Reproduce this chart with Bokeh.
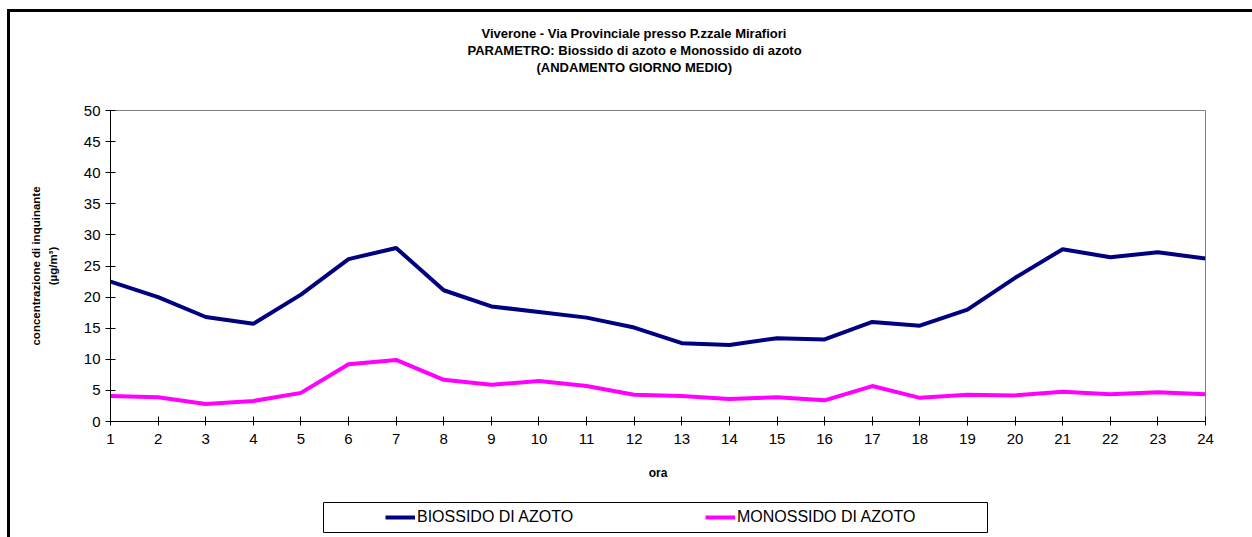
from bokeh.plotting import figure
from bokeh.layouts import column, row
from bokeh.models import Range1d, FixedTicker, Title, Legend, LegendItem
from bokeh.embed import file_html
from bokeh.resources import INLINE

# ---- data ----
ore = list(range(1, 25))
no2 = [22.5, 20.0, 16.8, 15.7, 20.4, 26.1, 27.9, 21.1, 18.5, 17.6, 16.7, 15.1,
       12.6, 12.3, 13.4, 13.2, 16.0, 15.4, 18.0, 23.1, 27.7, 26.4, 27.2, 26.2]
no = [4.1, 3.9, 2.8, 3.3, 4.6, 9.2, 9.9, 6.7, 5.9, 6.5, 5.7, 4.3,
      4.1, 3.6, 3.9, 3.4, 5.7, 3.8, 4.3, 4.2, 4.8, 4.4, 4.7, 4.4]
y_ticks = [0, 5, 10, 15, 20, 25, 30, 35, 40, 45, 50]
title_lines = ["Viverone - Via Provinciale presso P.zzale Mirafiori",
               "PARAMETRO: Biossido di azoto e Monossido di azoto",
               "(ANDAMENTO GIORNO MEDIO)"]
series_names = ["BIOSSIDO DI AZOTO", "MONOSSIDO DI AZOTO"]
series_colors = ["#000080", "#FF00FF"]

FONT = "Liberation Sans"
OX, OY = 10, 12          # content origin on the page (after margin + border)
W = 1252 - OX
H1 = 474
FL, FR, FT, FB = 110, 1205, 110, 421   # plot frame on the page

p = figure(width=W, height=H1, output_backend="svg", toolbar_location=None,
           x_range=Range1d(1, 24), y_range=Range1d(0, 50),
           min_border_left=FL - OX, min_border_right=W - (FR - OX),
           min_border_top=FT - OY, min_border_bottom=H1 - (FB - OY))
p.title.visible = False
p.background_fill_color = "white"
p.border_fill_color = "white"
p.outline_line_color = "#808080"
p.outline_line_width = 1
p.xgrid.visible = False
p.ygrid.visible = False

# spacer between the plot and the title block
p.add_layout(Title(text=" ", text_font=FONT, text_font_size="13px", standoff=19), "above")
# title: three centred lines above the plot (innermost added first)
title_left = [481, 467, 536]
for i in (2, 1, 0):
    p.add_layout(Title(text=title_lines[i], align="left", offset=title_left[i] - FL,
                       text_font=FONT, text_font_size="13px", text_font_style="bold",
                       text_color="black", standoff=0), "above")

# axes
p.xaxis.ticker = FixedTicker(ticks=ore)
p.yaxis.ticker = FixedTicker(ticks=y_ticks)
for ax in (p.xaxis[0], p.yaxis[0]):
    ax.axis_line_color = "black"
    ax.major_tick_line_color = "black"
    ax.minor_tick_line_color = None
    ax.major_label_text_font = FONT
    ax.major_label_text_font_size = "15px"
    ax.major_label_text_color = "black"
    ax.axis_label_text_font = FONT
    ax.axis_label_text_font_style = "bold"
    ax.axis_label_text_color = "black"
p.xaxis.major_tick_in = 5
p.xaxis.major_tick_out = 4
p.xaxis.major_label_standoff = 8
p.xaxis.axis_label = "ora"
p.xaxis.axis_label_text_font_size = "12px"
p.xaxis.axis_label_standoff = 19
p.yaxis.major_tick_in = 5
p.yaxis.major_tick_out = 5
p.yaxis.major_label_standoff = 5
p.yaxis.axis_label = "concentrazione di inquinante\n(µg/m³)"
p.yaxis.axis_label_text_font_size = "11.5px"
p.yaxis.axis_label_text_line_height = 1.4
p.yaxis.axis_label_standoff = 22

# data lines
p.line(ore, no2, line_color=series_colors[0], line_width=4)
p.line(ore, no, line_color=series_colors[1], line_width=4)

# legend box as a small second figure below
H2 = 537 - OY - H1
LB_L, LB_R, LB_T, LB_B = 323, 987, 502, 532
p2 = figure(width=LB_R - OX + 4, height=H2, output_backend="svg", toolbar_location=None,
            x_range=Range1d(0, 1), y_range=Range1d(0, 1),
            x_axis_location=None, y_axis_location=None,
            min_border_left=LB_L - OX, min_border_right=4,
            min_border_top=LB_T - (OY + H1), min_border_bottom=(OY + H1 + H2) - LB_B)
p2.title.visible = False
p2.xgrid.visible = False
p2.ygrid.visible = False
p2.outline_line_color = "black"
p2.outline_line_width = 1
p2.background_fill_color = "white"
p2.border_fill_color = "white"
l1 = p2.line(x=[0.5], y=[0.5], line_color=series_colors[0], line_width=4)
l2 = p2.line(x=[0.5], y=[0.5], line_color=series_colors[1], line_width=4)
legend = Legend(items=[LegendItem(label=series_names[0], renderers=[l1]),
                       LegendItem(label=series_names[1], renderers=[l2])],
                orientation="horizontal", location=(385 - LB_L, 6),
                padding=0, spacing=0, margin=0,
                glyph_width=30, glyph_height=18, label_standoff=2, label_width=288,
                label_height=18,
                label_text_font=FONT, label_text_font_size="16px", label_text_color="black",
                border_line_color=None, background_fill_alpha=0)
p2.add_layout(legend, "center")

layout = column(p, row(p2), spacing=0,
                styles={"border-top": "3px solid black", "border-left": "3px solid black",
                        "margin-left": "7px", "margin-top": "9px"})

open("out.html", "w").write(file_html(layout, INLINE))
